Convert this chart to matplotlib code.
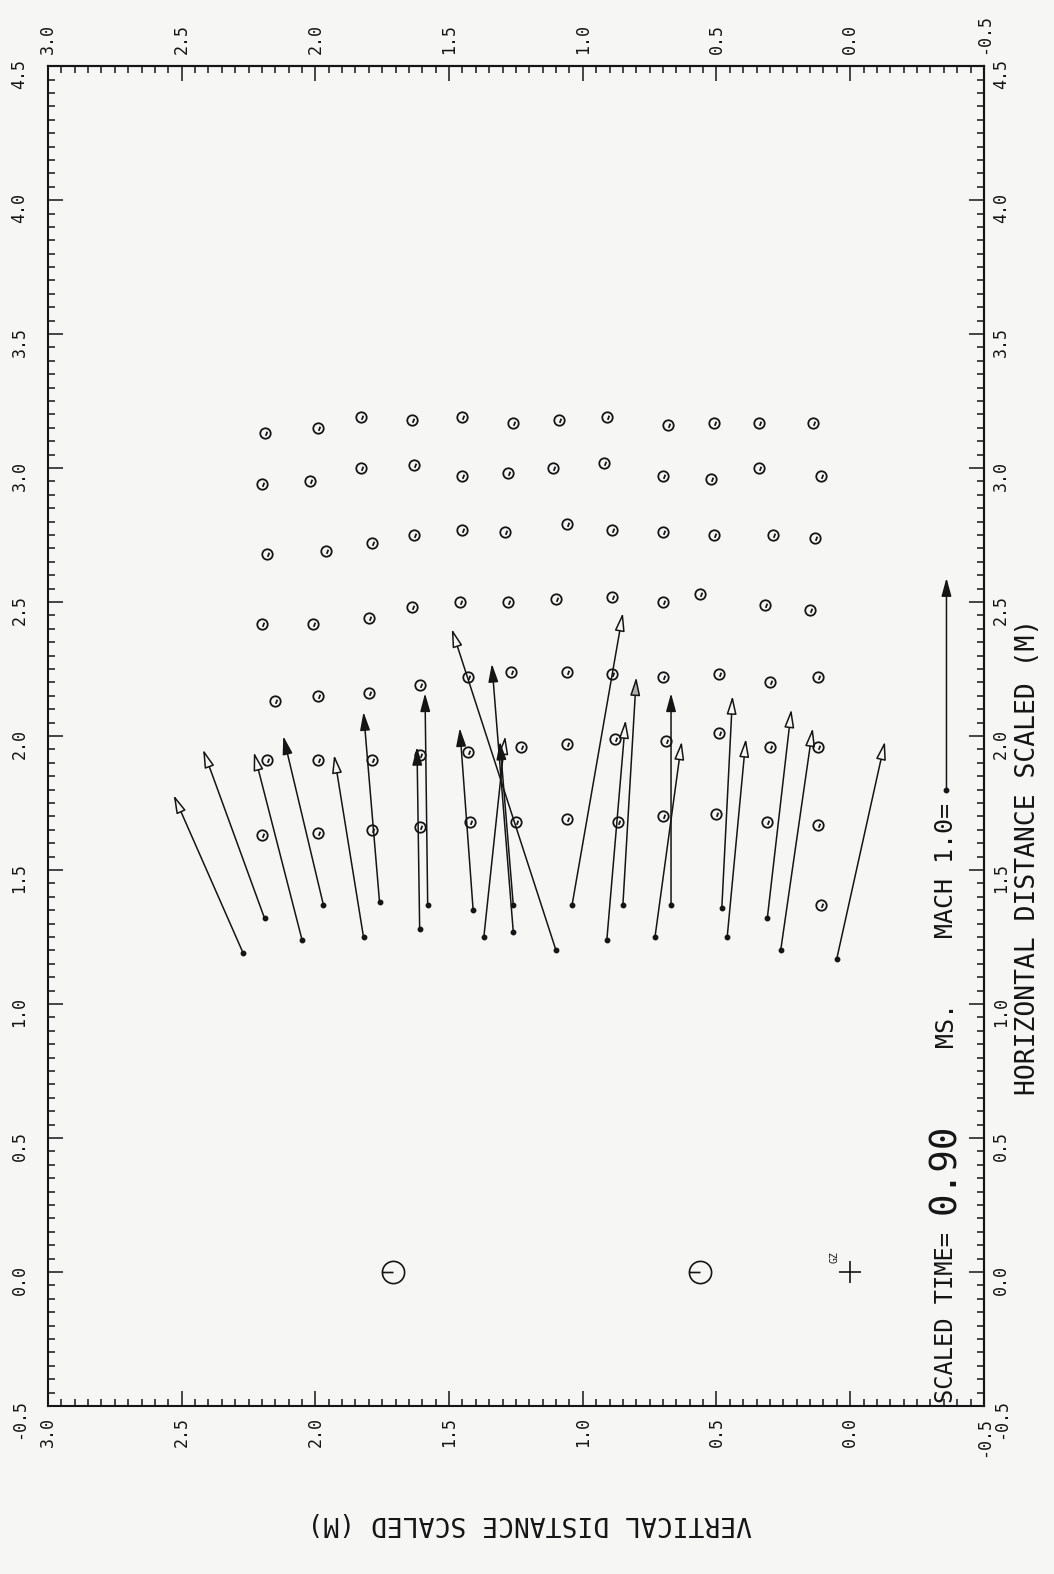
import numpy as np
import matplotlib
matplotlib.use('Agg')
import matplotlib.pyplot as plt
from matplotlib.path import Path
from matplotlib.patches import FancyArrowPatch
from matplotlib.ticker import FixedLocator, FormatStrFormatter

# gauges with no vector drawn: vertical distance (m), horizontal distance (m), one list per row
row_a_vert = [2.19, 1.99, 1.83, 1.64, 1.45, 1.26, 1.09, 0.91, 0.68, 0.51, 0.34, 0.14]
row_a_horiz = [3.13, 3.15, 3.19, 3.18, 3.19, 3.17, 3.18, 3.19, 3.16, 3.17, 3.17, 3.17]
row_b_vert = [2.20, 2.02, 1.83, 1.63, 1.45, 1.28, 1.11, 0.92, 0.70, 0.52, 0.34, 0.11]
row_b_horiz = [2.94, 2.95, 3.00, 3.01, 2.97, 2.98, 3.00, 3.02, 2.97, 2.96, 3.00, 2.97]
row_c_vert = [2.18, 1.96, 1.79, 1.63, 1.45, 1.29, 1.06, 0.89, 0.70, 0.51, 0.29, 0.13]
row_c_horiz = [2.68, 2.69, 2.72, 2.75, 2.77, 2.76, 2.79, 2.77, 2.76, 2.75, 2.75, 2.74]
row_d_vert = [2.20, 2.01, 1.80, 1.64, 1.46, 1.28, 1.10, 0.89, 0.70, 0.56, 0.32, 0.15]
row_d_horiz = [2.42, 2.42, 2.44, 2.48, 2.50, 2.50, 2.51, 2.52, 2.50, 2.53, 2.49, 2.47]
row_e_vert = [2.15, 1.99, 1.80, 1.61, 1.43, 1.27, 1.06, 0.89, 0.70, 0.49, 0.30, 0.12]
row_e_horiz = [2.13, 2.15, 2.16, 2.19, 2.22, 2.24, 2.24, 2.23, 2.22, 2.23, 2.20, 2.22]
row_f_vert = [2.18, 1.99, 1.79, 1.61, 1.43, 1.23, 1.06, 0.88, 0.69, 0.49, 0.30, 0.12]
row_f_horiz = [1.91, 1.91, 1.91, 1.93, 1.94, 1.96, 1.97, 1.99, 1.98, 2.01, 1.96, 1.96]
row_g_vert = [2.20, 1.99, 1.79, 1.61, 1.42, 1.25, 1.06, 0.87, 0.70, 0.50, 0.31, 0.12]
row_g_horiz = [1.63, 1.64, 1.65, 1.66, 1.68, 1.68, 1.69, 1.68, 1.70, 1.71, 1.68, 1.67]
row_h_vert = [0.11]
row_h_horiz = [1.37]

# velocity vectors: tail and tip positions, and head style
tail_vert = [2.27, 2.19, 2.05, 1.97, 1.82, 1.76, 1.61, 1.58, 1.41, 1.37, 1.10, 1.26, 1.26,
             1.04, 0.91, 0.85, 0.67, 0.73, 0.48, 0.46, 0.31, 0.26, 0.05]
tail_horiz = [1.19, 1.32, 1.24, 1.37, 1.25, 1.38, 1.28, 1.37, 1.35, 1.25, 1.20, 1.27, 1.37,
              1.37, 1.24, 1.37, 1.37, 1.25, 1.36, 1.25, 1.32, 1.20, 1.17]
tip_vert = [2.53, 2.42, 2.23, 2.12, 1.93, 1.82, 1.62, 1.59, 1.46, 1.29, 1.49, 1.34, 1.31,
            0.85, 0.84, 0.80, 0.67, 0.63, 0.44, 0.39, 0.22, 0.14, -0.13]
tip_horiz = [1.78, 1.95, 1.94, 2.00, 1.93, 2.09, 1.96, 2.16, 2.03, 2.00, 2.40, 2.27, 1.98,
             2.46, 2.06, 2.22, 2.16, 1.98, 2.15, 1.99, 2.10, 2.03, 1.98]
head_style = ['open', 'open', 'open', 'solid', 'open', 'solid', 'solid', 'solid', 'solid',
              'open', 'open', 'solid', 'solid',
              'open', 'open', 'grey', 'solid', 'open', 'open', 'open', 'open', 'open', 'open']

# charges and ground zero
charge_vert = [1.71, 0.56]
charge_horiz = [0.0, 0.0]
gz_vert = [0.0]
gz_horiz = [0.0]

# Mach 1.0 reference vector
mach_vert = -0.36
mach_horiz = [1.80, 2.59]

# axis ranges and labelled ticks
vert_range = (3.0, -0.5)
horiz_range = (-0.5, 4.5)
vert_ticks = [3.0, 2.5, 2.0, 1.5, 1.0, 0.5, 0.0, -0.5]
horiz_ticks = [-0.5, 0.0, 0.5, 1.0, 1.5, 2.0, 2.5, 3.0, 3.5, 4.0, 4.5]

plt.rcParams['font.family'] = ['DejaVu Sans Mono']
paper = '#f6f6f4'
ink = '#151515'

fig = plt.figure(figsize=(10.54, 15.74), dpi=100, facecolor=paper)
ax = fig.add_axes([0.0455, 0.1067, 0.888, 0.8513], facecolor=paper)
ax.set_xlim(*vert_range)
ax.set_ylim(*horiz_range)

# markers drawn like the plotter glyphs
gauge_marker = Path.make_compound_path(Path.unit_circle(), Path([(0.05, -0.45), (0.35, 0.35)]))
charge_marker = Path.make_compound_path(Path.unit_circle(), Path([(-1.0, 0.0), (0.0, 0.0)]))

rows_vert = [row_a_vert, row_b_vert, row_c_vert, row_d_vert, row_e_vert, row_f_vert, row_g_vert, row_h_vert]
rows_horiz = [row_a_horiz, row_b_horiz, row_c_horiz, row_d_horiz, row_e_horiz, row_f_horiz, row_g_horiz, row_h_horiz]
for rv, rh in zip(rows_vert, rows_horiz):
    ax.plot(rv, rh, linestyle='none', marker=gauge_marker, ms=7.5, mfc='none', mec=ink, mew=1.3)

face = {'open': paper, 'solid': ink, 'grey': '#b0b0b0'}
for v0, h0, v1, h1, st in zip(tail_vert, tail_horiz, tip_vert, tip_horiz, head_style):
    arr = FancyArrowPatch((v0, h0), (v1, h1), arrowstyle='-|>,head_length=1.1,head_width=0.3',
                          mutation_scale=10, shrinkA=0, shrinkB=0, fc=face[st], ec=ink, lw=1.1)
    ax.add_patch(arr)
ax.plot(tail_vert, tail_horiz, linestyle='none', marker='o', ms=3.2, color=ink)

ax.plot(charge_vert, charge_horiz, linestyle='none', marker=charge_marker, ms=16, mfc='none', mec=ink, mew=1.2)
ax.plot(gz_vert, gz_horiz, linestyle='none', marker='+', ms=16, mew=1.2, color=ink)
ax.annotate('GZ', xy=(gz_vert[0], gz_horiz[0]), xytext=(-11, 11), textcoords='offset points',
            rotation=90, fontsize=7, ha='center', va='center', color=ink)

# reference arrow and caption
ax.add_patch(FancyArrowPatch((mach_vert, mach_horiz[0]), (mach_vert, mach_horiz[1]),
                             arrowstyle='-|>,head_length=1.1,head_width=0.3', mutation_scale=10,
                             shrinkA=0, shrinkB=0, fc=ink, ec=ink, lw=1.1))
ax.plot([mach_vert], [mach_horiz[0]], marker='o', ms=3.2, color=ink)
ax.text(0.959, 0.002, 'SCALED TIME=', transform=ax.transAxes, rotation=90,
        rotation_mode='anchor', ha='left', va='center', fontsize=17, color=ink)
ax.text(0.959, 0.143, '0.90', transform=ax.transAxes, rotation=90,
        rotation_mode='anchor', ha='left', va='center', fontsize=27, color=ink)
ax.text(0.959, 0.268, 'MS.', transform=ax.transAxes, rotation=90,
        rotation_mode='anchor', ha='left', va='center', fontsize=18, color=ink)
ax.text(0.959, 0.450, 'MACH 1.0=', transform=ax.transAxes, rotation=90,
        rotation_mode='anchor', ha='right', va='center', fontsize=18, color=ink)

ax.text(1.047, 0.410, 'HORIZONTAL DISTANCE SCALED (M)', transform=ax.transAxes, rotation=90,
        ha='center', va='center', fontsize=19, color=ink)
ax.text(0.515, -0.087, 'VERTICAL DISTANCE SCALED (M)', transform=ax.transAxes, rotation=180,
        ha='center', va='center', fontsize=19, color=ink)

# frame and ticks on all four sides, tick marks pointing inward
for sp in ax.spines.values():
    sp.set_linewidth(1.5)
    sp.set_color(ink)

vert_minor = np.round(np.arange(-0.5, 3.0001, 0.05), 2)
horiz_minor = np.round(np.arange(-0.5, 4.5001, 0.05), 2)

secx = ax.secondary_xaxis('top')
secy = ax.secondary_yaxis('right')
for axis in (ax.xaxis, secx.xaxis):
    axis.set_major_locator(FixedLocator(vert_ticks))
    axis.set_minor_locator(FixedLocator(vert_minor))
    axis.set_major_formatter(FormatStrFormatter('%.1f'))
for axis in (ax.yaxis, secy.yaxis):
    axis.set_major_locator(FixedLocator(horiz_ticks))
    axis.set_minor_locator(FixedLocator(horiz_minor))
    axis.set_major_formatter(FormatStrFormatter('%.1f'))

ax.tick_params(which='both', direction='in', top=False, right=False, width=1.1, color=ink,
               labelsize=12, labelcolor=ink, labelrotation=90)
ax.tick_params(which='major', length=11)
ax.tick_params(which='minor', length=5)
ax.tick_params(axis='y', which='major', pad=14)
ax.tick_params(axis='x', which='major', pad=8)
for sec in (secx, secy):
    sec.tick_params(which='both', direction='in', width=1.1, color=ink,
                    labelsize=12, labelcolor=ink, labelrotation=90)
    sec.tick_params(which='major', length=11)
    sec.tick_params(which='minor', length=5)
    for sp in sec.spines.values():
        sp.set_linewidth(1.5)
        sp.set_color(ink)
secx.tick_params(which='major', pad=9)
secy.tick_params(which='major', pad=6)

fig.savefig('out.png', dpi=100, facecolor=paper)
